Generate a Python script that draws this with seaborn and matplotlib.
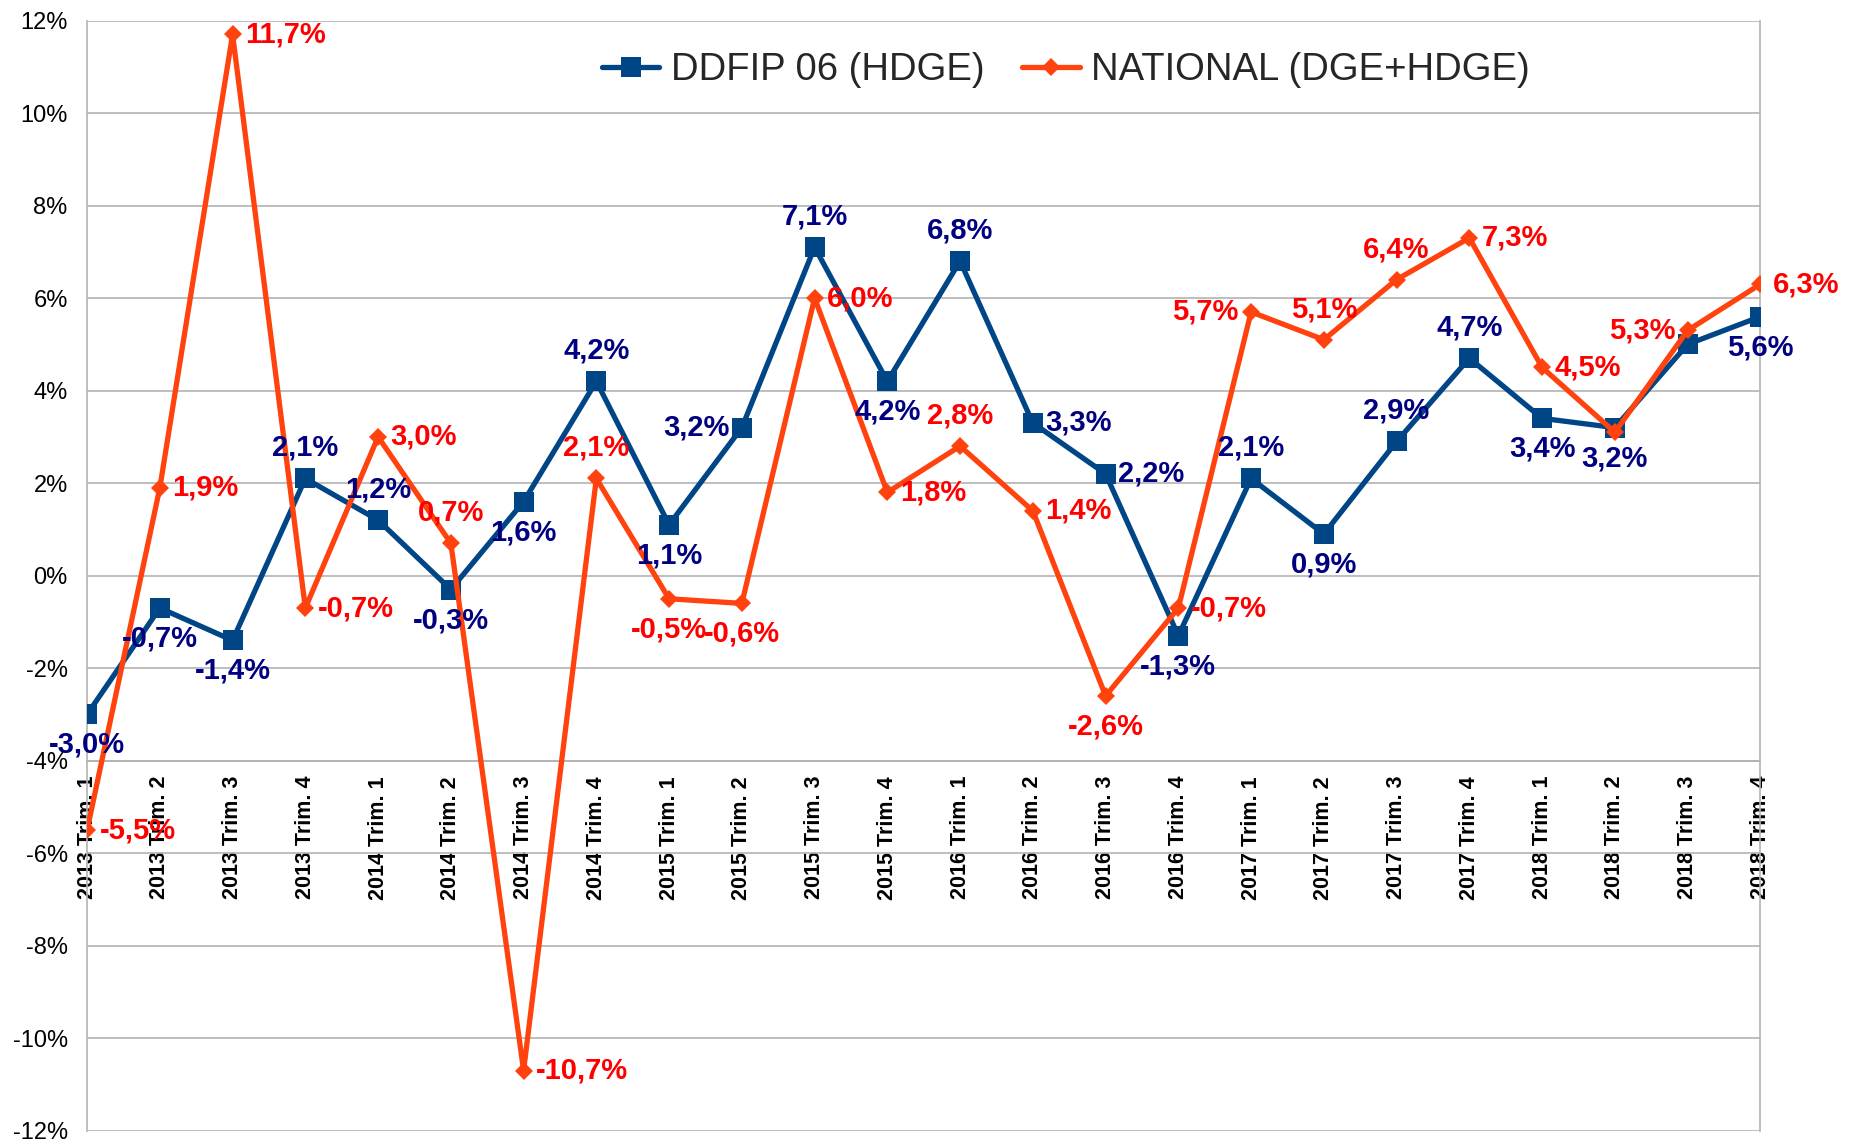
import numpy as np
import pandas as pd
import matplotlib
matplotlib.use("Agg")
import matplotlib.pyplot as plt
import seaborn as sns
from matplotlib.ticker import FuncFormatter, MultipleLocator, FixedLocator

# quarters shown on the x axis
quarters = [f"{y} Trim. {q}" for y in range(2013, 2019) for q in range(1, 5)]

# quarterly evolution, in %
ddfip = [-3.0, -0.7, -1.4, 2.1, 1.2, -0.3, 1.6, 4.2, 1.1, 3.2, 7.1, 4.2,
         6.8, 3.3, 2.2, -1.3, 2.1, 0.9, 2.9, 4.7, 3.4, 3.2, 5.0, 5.6]
national = [-5.5, 1.9, 11.7, -0.7, 3.0, 0.7, -10.7, 2.1, -0.5, -0.6, 6.0, 1.8,
            2.8, 1.4, -2.6, -0.7, 5.7, 5.1, 6.4, 7.3, 4.5, 3.1, 5.3, 6.3]

# where each value label sits around its point (u=above, d=below, l=left, r=right, None=hidden)
ddfip_pos = ["d", "d", "d", "u", "u", "d", "d", "u", "d", "l", "u", "d",
             "u", "r", "r", "d", "u", "d", "u", "u", "d", "d", None, "d"]
national_pos = ["r", "r", "r", "r", "r", "u", "r", "u", "d", "d", "r", "r",
                "u", "r", "d", "r", "l", "u", "u", "r", "r", None, "l", "r"]

blue_line = "#004586"
blue_text = "#000080"
red_line = "#ff420e"
red_text = "#ff0000"
grid_col = "#b3b3b3"

sns.set_theme(style="white")
plt.rcParams["font.family"] = ["Liberation Sans", "DejaVu Sans"]

df = pd.DataFrame({"x": np.arange(len(quarters)), "ddfip": ddfip, "national": national})

fig = plt.figure(figsize=(18.53, 11.41), dpi=100)
ax = fig.add_axes([0.047, 0.009, 0.903, 0.973])

sns.lineplot(data=df, x="x", y="ddfip", ax=ax, color=blue_line, linewidth=3.8,
             marker="s", markersize=15, markeredgewidth=0, label="DDFIP 06 (HDGE)",
             zorder=3)
sns.lineplot(data=df, x="x", y="national", ax=ax, color=red_line, linewidth=3.8,
             marker="D", markersize=9.5, markeredgewidth=0, label="NATIONAL (DGE+HDGE)",
             zorder=4)


def add_labels(values, positions, color):
    for i, (v, p) in enumerate(zip(values, positions)):
        if p is None:
            continue
        txt = f"{v:.1f}".replace(".", ",") + "%"
        if p == "u":
            off, ha = (0, 22), "center"
        elif p == "d":
            off, ha = (0, -22), "center"
        elif p == "r":
            off, ha = (9, 0), "left"
        else:
            off, ha = (-9, 0), "right"
        ax.annotate(txt, (i, v), xytext=off, textcoords="offset points",
                    ha=ha, va="center", fontsize=21, fontweight="bold",
                    color=color, zorder=5)


add_labels(ddfip, ddfip_pos, blue_text)
add_labels(national, national_pos, red_text)

ax.set_xlim(0, len(quarters) - 1)
ax.set_ylim(-12, 12)
ax.set_xlabel("")
ax.set_ylabel("")

ax.grid(axis="y", color=grid_col, linewidth=1.2)
ax.grid(axis="x", visible=False)
ax.set_axisbelow(True)

ax.spines["bottom"].set_position(("data", -4))
ax.spines["bottom"].set_color(grid_col)
ax.spines["top"].set_visible(False)
for s in ["left", "right"]:
    ax.spines[s].set_color(grid_col)
    ax.spines[s].set_linewidth(1.2)

ax.tick_params(axis="x", length=7, width=1.2, color=grid_col, pad=4, labelcolor="black")
ax.tick_params(axis="y", length=0, labelsize=17, pad=14, labelcolor="black")

ax.yaxis.set_major_locator(MultipleLocator(2))
ax.yaxis.set_major_formatter(FuncFormatter(lambda v, _: f"{v:.0f}%"))
ax.xaxis.set_major_locator(FixedLocator(df["x"].tolist()))
ax.set_xticklabels(quarters)
plt.setp(ax.get_xticklabels(), rotation=90, fontsize=15.5, fontweight="bold",
         ha="center", va="top")

leg = ax.legend(loc="center", bbox_to_anchor=(0.585, 0.955), ncol=2, frameon=False,
                fontsize=27.5, handlelength=1.5, handletextpad=0.3, columnspacing=1.0)

fig.savefig("out.png", dpi=100)
